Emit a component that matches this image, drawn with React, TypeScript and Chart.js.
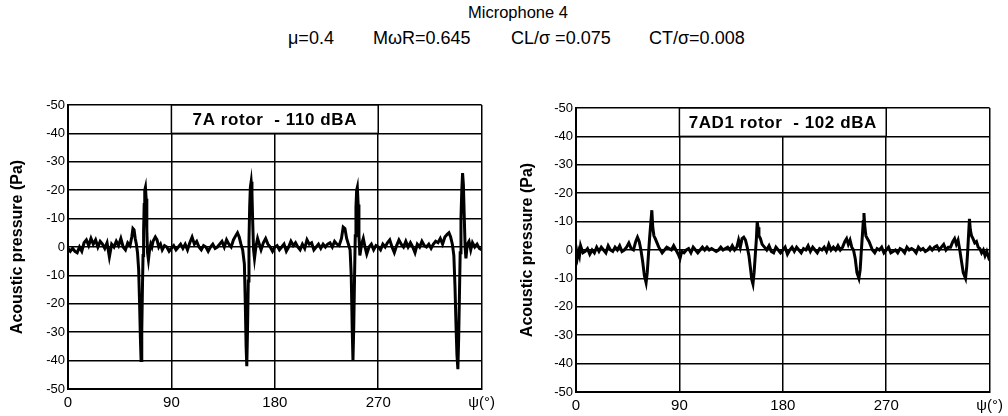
import React, { useEffect, useRef } from 'react';
import { Chart, registerables } from 'chart.js';

Chart.register(...registerables);

const FONT = '"Liberation Sans", Arial, Helvetica, sans-serif';

const TITLE = 'Microphone 4';
const SUBTITLE_PARTS = ['μ=0.4', 'MωR=0.645', 'CL/σ =0.075', 'CT/σ=0.008'];
const Y_AXIS_TITLE = 'Acoustic pressure (Pa)';
const X_TICK_LABELS = ['0', '90', '180', '270', 'ψ(°)'];
const Y_TICK_LABELS = ['-50', '-40', '-30', '-20', '-10', '0', '-10', '-20', '-30', '-40', '-50'];
const LABEL_A = '7A rotor  - 110 dBA';
const LABEL_B = '7AD1 rotor  - 102 dBA';

// 7A rotor: azimuth (deg) and acoustic pressure (Pa)
const psiA = [
  0, 2, 4, 6, 8, 10, 12, 14, 16, 18, 20, 22, 24, 26, 28, 30, 32, 34, 36, 38, 40, 42, 44, 46, 48, 50, 52, 54,
  55.5, 56.5, 57.5, 58.5, 59.5, 60.5, 61.5, 62.3, 63, 63.6, 64.2, 64.8, 65.3, 65.8, 66.3, 66.8, 67.4, 68, 68.6, 69.2,
  70, 71, 72, 73, 74, 76, 77.5, 79, 80.5, 82, 84, 86, 88, 90, 92, 94, 96, 98, 100, 102, 104, 106, 108, 110, 112,
  114, 116, 118, 120, 122, 124, 126, 128, 130, 132, 134, 136, 138, 140, 142, 144, 146, 147.5, 149, 150.5, 152,
  153.5, 154.3, 155, 155.6, 156.2, 156.9, 157.5, 158.1, 158.7, 159.4, 160.1, 160.8, 161.5, 162.3, 163.5, 165,
  166.5, 168, 170, 172, 174, 176, 178, 180, 182, 184, 186, 188, 190, 192, 194, 196, 198, 200, 202, 204, 206, 208,
  210, 212, 214, 216, 218, 220, 222, 224, 226, 228, 230, 232, 234, 236, 238, 239.5, 241, 242.5, 244, 245.5, 246.5,
  247.3, 248, 248.7, 249.4, 250, 250.6, 251.2, 251.8, 252.5, 253.2, 254, 255.5, 257, 258.5, 260, 262, 264, 266,
  268, 270, 272, 274, 276, 278, 280, 282, 284, 286, 288, 290, 292, 294, 296, 298, 300, 302, 304, 306, 308, 310,
  312, 314, 316, 318, 320, 322, 324, 326, 328, 330, 331.5, 333, 334.5, 335.8, 336.8, 337.7, 338.5, 339.3, 340,
  340.7, 341.3, 342, 342.7, 343.4, 344.1, 344.9, 345.6, 346.3, 347.5, 349, 350.5, 352, 354, 356, 358, 360,
];
const pA = [
  0.5, 1.5, 0.5, 1.5, 2, 0, 1.5, -1.5, -2.5, -0.5, -3, -1, -2.5, 0, -2, -1, 0.5, -1.5, 3.5, -1, 0, -2, -0.5, -3, 0, 1, -1.5, -0.5,
  -3.5, -6.5, -6, -3, -1, 2, 8, 20, 32, 40, 30, 14, 3, -6, -15, -20, -21, -17, -6, 2,
  4.5, 1, -1, 0, -2, -3.5, -2.5, 0, -1, 1, -0.5, 0, 1.5, 0.5, -0.5, 1, 0, -1, 0.5, -1, 1, -1.5, -3.5, -1, -2,
  0, 1, -0.5, 0, 1.5, 0, -1, 0.5, 0, -1, -2, 0, -2.5, -1, 0, -2.5, -4, -5, -3.5, -1, 1,
  6, 20, 35, 42, 30, 12, -2, -14, -21, -23, -19, -8, 1, 4, 0, -3,
  -1, 1, -1.5, -3, -1, 0, 1.5, 0, -0.5, 1, 0, -1, 1.5, 0, -2, -0.5, -1.5, 0, 1, -1, 0.5, -2.5,
  -1, -1.5, 1, 0, -1, 0.5, -1, 0, -1, -1.5, 0, -2, -1, -0.5, -3, -7, -6.5, -3, -1, 1, 10,
  28, 40, 28, 10, -4, -14, -20, -21, -15, -4, 3, -1, -3, 0, 2.5, 0, -1, 1,
  -0.5, 0, 1, -1, 0, -1.5, -2.5, 0, 2, -0.5, -2.5, -1, 0, -2, 0, -1.5, 0, 2, -1, 0, -2, -0.5,
  0, -1, 0.5, -1, -2, -1.5, -3, -1, -3.5, -4.5, -5, -3.5, -1, 3, 14, 28, 38, 43, 32,
  16, 2, -10, -20, -26, -22, -10, 0, 4, -1, -2, 1, -1.5, 0, -1, 0.5, 1,
];

// 7AD1 rotor: azimuth (deg) and acoustic pressure (Pa)
const psiB = [
  0, 1, 2, 3, 4, 6, 8, 10, 12, 14, 16, 18, 20, 22, 24, 26, 28, 30, 32, 34, 36, 38, 40, 42, 44, 46, 48, 50, 52,
  53.5, 55, 56.5, 58, 59.5, 61, 62, 63, 64, 65, 66, 66.8, 67.8, 69, 70.5, 72, 73.5, 75, 77, 79, 81, 83, 85, 87,
  89, 90.5, 92, 94, 96, 98, 100, 102, 104, 106, 108, 110, 112, 114, 116, 118, 120, 122, 124, 126, 128, 130, 132,
  134, 136, 138, 140, 141.5, 143, 144.5, 146, 147.5, 149, 150.5, 152, 153, 154, 155, 156, 157, 157.7, 158.4,
  159.2, 160.5, 162, 164, 166, 168, 170, 172, 174, 176, 178, 180, 182, 184, 186, 188, 190, 192, 194, 196, 198,
  200, 202, 204, 206, 208, 210, 212, 214, 216, 218, 220, 222, 224, 226, 228, 230, 232, 234, 235.5, 237, 238.5,
  240, 241.5, 243, 244.5, 246.2, 247.3, 248.2, 249.2, 250, 250.6, 251.4, 252.3, 253.5, 255, 256.5, 258, 260, 262,
  264, 266, 268, 270, 272, 274, 276, 278, 280, 282, 284, 286, 288, 290, 292, 294, 296, 298, 300, 302, 304, 306,
  308, 310, 312, 314, 316, 318, 320, 322, 324, 326, 328, 329.5, 331, 332.5, 334, 335.5, 337, 339, 340, 340.8,
  341.6, 342.4, 343.2, 344.2, 345.5, 347, 348.5, 350, 351.5, 353, 354.5, 356, 357.5, 359, 360,
];
const pB = [
  1.5, 3, 0.5, 2, -1.5, 1, 0.5, -0.5, 1.5, 0, 1, -1, 0.5, -1, 0, 1, -1.5, 0, 0.5, -1, 0, -1.5, 0.5, 0, -1, -2.5, -0.5, 0, -3,
  -4.5, -3, 0, 4, 9, 11.5, 8, 2, -4, -9, -14, -8, -5, -4, -2.5, -1, 0, 1, 0, -1, -0.5, 0, -1.5, 0,
  1.5, 3, 0.5, 1, 0, -0.5, 1, -1, 0, 1, 0, -1, 0, -1, 0, -0.5, 0, 0.5, 0, -1, 0, -0.5, -1,
  0, -1.5, 0, -1, -3.5, -1, -4, -4.5, -3.5, -1, 2, 7, 10.5, 12, 8, 2, -4, -10, -8,
  -5, -4, -2, -1, 0, -1.5, 0.5, 1, -1, 0, 1, 0, -1, 1.5, 0, -1, 0.5, -1, 0, 1, -0.5,
  0, -1.5, 0.5, -1, 0, 1, -0.5, 0, -1, 0.5, -2, 0, -1, 0, -1.5, 0, -1, -3, -4, -2, -3.5,
  -1, 0, 3, 8, 10, 7, 1, -5, -10, -13, -8, -5, -4, -3, -1.5, 0, 1, -0.5,
  0, -1, 1, 0, -1, 1, 0.5, 0, 1, -0.5, 0, 1, -1, 0, -0.5, 0, 1, -1, 0, -0.5, 0.5, 0,
  -1, 0, -1, -1.5, 0, -1, -2, 0, -1, -1, -3, -4, -2, -3.5, 0, 4, 8, 10, 6, 1,
  -5, -11, -7, -5, -4, -2.5, -3, -1, -0.5, 1, 0, 2, 0.5, 2.5, 1.5,
];

const labelBoxPlugin = {
  id: 'labelBox',
  afterDraw(chart: any, _args: any, opts: any) {
    const x = chart.scales.x;
    const y = chart.scales.y;
    const ctx = chart.ctx;
    const x1 = x.getPixelForValue(90);
    const x2 = x.getPixelForValue(270);
    const y1 = y.getPixelForValue(-50);
    const y2 = y.getPixelForValue(-40);
    ctx.save();
    ctx.fillStyle = '#fff';
    ctx.fillRect(x1, y1, x2 - x1, y2 - y1);
    ctx.strokeStyle = '#000';
    ctx.lineWidth = 1.5;
    ctx.strokeRect(x1, y1, x2 - x1, y2 - y1);
    ctx.fillStyle = '#000';
    ctx.font = `bold 17px ${FONT}`;
    (ctx as any).letterSpacing = '0.6px';
    ctx.textAlign = 'center';
    ctx.textBaseline = 'middle';
    ctx.fillText(opts.text, (x1 + x2) / 2, (y1 + y2) / 2 + 1);
    ctx.restore();
  },
};

function makeChart(canvas: HTMLCanvasElement, psi: number[], p: number[], label: string, g: any) {
  return new Chart(canvas, {
    type: 'line',
    data: {
      datasets: [
        {
          data: psi.map((v, i) => ({ x: v, y: p[i] })),
          borderColor: '#000',
          borderWidth: 3,
          pointRadius: 0,
          tension: 0,
          fill: false,
        },
      ],
    },
    options: {
      animation: false,
      responsive: false,
      devicePixelRatio: 1,
      layout: { padding: g.padding },
      plugins: {
        legend: { display: false },
        tooltip: { enabled: false },
        title: { display: false },
        labelBox: { text: label },
      } as any,
      scales: {
        x: {
          type: 'linear',
          min: 0,
          max: 360,
          afterFit: (s: any) => {
            s.height = g.xHeight;
          },
          ticks: {
            stepSize: 90,
            autoSkip: false,
            maxRotation: 0,
            padding: 5,
            color: '#000',
            font: { family: FONT, size: 15 },
            callback: (v: any) => X_TICK_LABELS[Math.round(Number(v) / 90)],
          },
          grid: { color: '#000', lineWidth: 1.5, drawTicks: false },
          border: { display: true, color: '#000', width: 2 },
        },
        y: {
          type: 'linear',
          min: -50,
          max: 50,
          reverse: true,
          afterFit: (s: any) => {
            s.width = g.yWidth;
          },
          ticks: {
            stepSize: 10,
            autoSkip: false,
            padding: 3,
            color: '#000',
            font: { family: FONT, size: 13 },
            callback: (v: any) => Y_TICK_LABELS[Math.round((Number(v) + 50) / 10)],
          },
          grid: { color: '#000', lineWidth: 1.5, drawTicks: false },
          border: { display: true, color: '#000', width: 2 },
          title: {
            display: true,
            text: Y_AXIS_TITLE,
            color: '#000',
            font: { family: FONT, size: 16, weight: 'bold' },
            padding: { top: 8, bottom: 0 },
          },
        },
      },
    } as any,
    plugins: [labelBoxPlugin],
  });
}

export default function App() {
  const leftRef = useRef<HTMLCanvasElement>(null);
  const rightRef = useRef<HTMLCanvasElement>(null);

  useEffect(() => {
    const a = makeChart(leftRef.current!, psiA, pA, LABEL_A, {
      padding: { left: 0, top: 105, right: 15, bottom: 0 },
      yWidth: 68,
      xHeight: 27,
    });
    const b = makeChart(rightRef.current!, psiB, pB, LABEL_B, {
      padding: { left: 10, top: 108, right: 15, bottom: 0 },
      yWidth: 66,
      xHeight: 24,
    });
    return () => {
      a.destroy();
      b.destroy();
    };
  }, []);

  const textStyle: React.CSSProperties = {
    position: 'absolute',
    fontFamily: FONT,
    fontSize: 18,
    lineHeight: '22px',
    color: '#000',
    whiteSpace: 'pre',
  };
  const subLeft = [288, 373, 511, 649];

  return (
    <div style={{ position: 'fixed', left: 0, top: 0, width: 1008, height: 416, background: '#fff', overflow: 'hidden' }}>
      <div style={{ ...textStyle, fontSize: 16.5, left: 418, width: 200, top: 1, textAlign: 'center' }}>{TITLE}</div>
      {SUBTITLE_PARTS.map((t, i) => (
        <div key={i} style={{ ...textStyle, left: subLeft[i], top: 27 }}>
          {t}
        </div>
      ))}
      <canvas ref={leftRef} width={500} height={416} style={{ position: 'absolute', left: 0, top: 0 }} />
      <canvas ref={rightRef} width={508} height={416} style={{ position: 'absolute', left: 500, top: 0 }} />
    </div>
  );
}
